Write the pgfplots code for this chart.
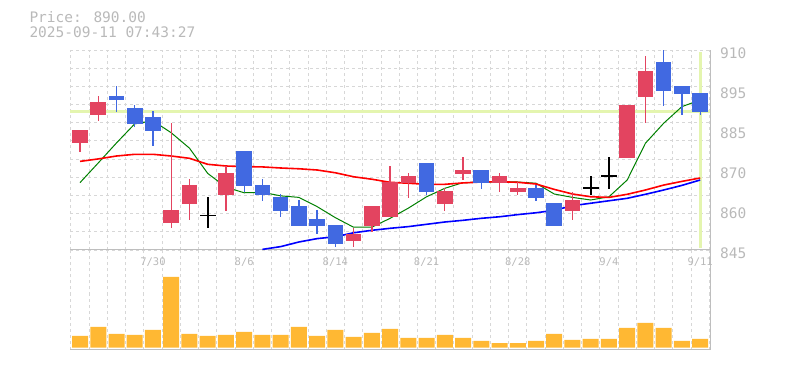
\documentclass[border=0pt]{standalone}
\usepackage{fontspec}
\usepackage{pgfplots}
\usepackage{pgfplotstable}
\pgfplotsset{compat=1.18}
\newfontfamily\monofont{DejaVu Sans Mono}
\definecolor{candlered}{RGB}{227,68,96}
\definecolor{candleblue}{RGB}{65,105,225}
\definecolor{volorange}{RGB}{255,184,51}
\definecolor{gridgray}{RGB}{215,215,215}
\definecolor{axisgray}{RGB}{190,190,190}
\definecolor{textgray}{RGB}{185,185,185}
\definecolor{hilite}{RGB}{228,245,175}
\definecolor{magreen}{RGB}{0,128,0}
\definecolor{mared}{RGB}{255,0,0}
\definecolor{mablue}{RGB}{0,0,255}

\pgfplotstableread{
x o h l c
0 879.9 884.0 877.0 884.0
1 889.0 895.0 887.0 893.0
5 853.9 886.4 852.0 858.0
6 860.1 868.1 854.9 866.1
8 863.0 872.2 857.8 870.0
15 847.9 852.2 846.1 850.2
16 852.9 859.3 851.0 859.3
17 855.8 872.3 855.8 867.0
18 866.7 870.0 862.0 869.0
20 860.1 865.2 857.7 864.2
21 869.7 875.2 867.75 871.0
23 866.9 870.0 864.0 869.0
24 864.0 867.1 863.0 865.15
27 857.8 864.0 854.75 861.25
30 875.0 892.1 875.0 892.1
31 894.8 908.05 886.2 903.1
}\upcandles

\pgfplotstableread{
x o h l c
2 895.0 898.3 890.0 893.7
3 891.2 892.0 885.1 886.0
4 888.2 890.2 878.9 883.8
9 877.2 877.2 864.0 865.9
10 866.1 868.1 861.0 863.0
11 862.2 863.1 855.8 857.8
12 859.3 861.25 852.9 852.9
13 855.1 858.0 850.1 852.9
14 853.1 853.1 846.1 847.0
19 873.3 873.3 862.9 864.0
22 871.0 871.0 864.9 866.9
25 865.15 866.1 861.0 862.0
26 860.3 860.3 852.9 852.9
32 906.0 910.0 891.9 896.7
33 898.2 898.2 889.0 895.8
34 896.0 896.0 889.0 890.0
}\downcandles

\pgfplotstableread{
x o h l c
7 856.2 862.2 852.0 856.2
28 865.15 869.05 862.9 865.15
29 869.05 875.2 864.9 869.05
}\dojis

\pgfplotstableread{
x ma
0 866.9
1 873.3
2 879.8
3 886.0
4 887.0
5 883.1
6 878.1
7 869.9
8 865.4
9 863.6
10 863.75
11 862.6
12 862.1
13 859.1
14 855.5
15 852.4
16 852.4
17 855.3
18 858.6
19 862.3
20 865.05
21 866.9
22 867.0
23 867.2
24 867.1
25 866.7
26 863.2
27 862.1
28 861.25
29 862.3
30 867.75
31 879.7
32 886.2
33 891.6
34 893.75
}\mashort

\pgfplotstableread{
x ma
0 873.8
1 874.6
2 875.55
3 876.1
4 876.1
5 875.55
6 874.8
7 872.85
8 872.3
9 872.1
10 872.0
11 871.65
12 871.4
13 871.0
14 870.1
15 868.8
16 868.0
17 867.0
18 866.7
19 866.35
20 866.35
21 866.8
22 867.1
23 867.2
24 867.0
25 866.45
26 864.7
27 863.2
28 862.3
29 862.1
30 863.1
31 864.5
32 866.1
33 867.3
34 868.4
}\mamid

\pgfplotstableread{
x ma
10 845.2
11 846.1
12 847.6
13 848.7
14 849.3
15 850.6
16 851.4
17 852.05
18 852.6
19 853.35
20 854.1
21 854.65
22 855.3
23 855.8
24 856.5
25 857.1
26 857.9
27 859.4
28 860.2
29 861.0
30 861.8
31 863.1
32 864.5
33 866.0
34 867.75
}\malong

\pgfplotstableread{
x v
0 11.7
1 20.7
2 13.7
3 12.7
4 17.7
5 70.7
6 13.7
7 11.7
8 12.7
9 15.7
10 12.7
11 12.7
12 20.7
13 11.7
14 17.7
15 10.7
16 14.7
17 18.7
18 9.7
19 9.7
20 12.7
21 9.7
22 6.7
23 4.7
24 4.7
25 6.7
26 13.7
27 7.7
28 8.7
29 8.7
30 19.7
31 24.7
32 19.7
33 6.7
34 8.7
}\volumes

\pgfplotsset{
  chartbase/.style={
    scale only axis, width=640pt,
    xmin=-0.55, xmax=34.54,
    axis x line*=bottom, axis y line*=right,
    x axis line style={-, draw=axisgray, line width=1pt},
    y axis line style={-, draw=axisgray, line width=1pt},
    minor xtick={-0.5,0.5,...,34.5},
    xminorgrids=true,
    minor grid style={draw=gridgray, line width=0.9pt, dash pattern=on 3pt off 3pt},
    major tick length=0pt, minor tick length=0pt,
    xtick={4,9,14,19,24,29,34},
  }
}

\begin{document}
\begin{tikzpicture}[x=1pt,y=1pt]
\path[use as bounding box] (0,0) rectangle (785,370);
\node[anchor=base west, inner sep=0pt, text=textgray, font=\monofont\fontsize{14.5}{16}\selectfont] at (29.3,347) {Price: 890.00};
\node[anchor=base west, inner sep=0pt, text=textgray, font=\monofont\fontsize{14.5}{16}\selectfont] at (29.3,332) {2025-09-11 07:43:27};

\begin{axis}[chartbase,
  at={(70pt,20.5pt)}, anchor=south west, height=99.5pt,
  ymin=-1.8, ymax=97.7,
  xticklabels={}, ytick=\empty,
]
\addplot[ybar, bar width=16pt, bar shift=0pt, fill=volorange, draw=none] table[x=x, y=v] {\volumes};
\end{axis}

\begin{axis}[chartbase,
  at={(70pt,120pt)}, anchor=south west, height=200pt,
  ymin=845, ymax=910,
  xticklabels={7/30,8/6,8/14,8/21,8/28,9/4,9/11},
  xticklabel style={font=\monofont\fontsize{10.5}{12}\selectfont, text=textgray, anchor=center, inner sep=0pt, yshift=-12pt},
  ytick={910,897,884,871,858,845},
  yticklabels={910,895,885,870,860,845},
  yticklabel style={font=\monofont\fontsize{14.5}{16}\selectfont, text=textgray, anchor=west, inner sep=0pt, xshift=10pt, yshift=-3pt},
  minor ytick={845,850.909,856.818,862.727,868.636,874.545,880.455,886.364,892.273,898.182,904.091,910},
  yminorgrids=true,
]
\addplot[hilite, line width=3.2pt, forget plot] coordinates {(-0.55,890) (34.54,890)};
\addplot[hilite, line width=3.2pt, forget plot] coordinates {(34,845.6) (34,909.4)};
\addplot[magreen, line width=1pt] table[x=x, y=ma] {\mashort};
\addplot[mared, line width=1.6pt] table[x=x, y=ma] {\mamid};
\addplot[mablue, line width=1.6pt] table[x=x, y=ma] {\malong};
% wicks
\addplot[draw=none, mark=none, forget plot,
  error bars/.cd, y dir=both, y explicit, error mark=none,
  error bar style={draw=candlered, line width=1.3pt}]
  table[x=x, y expr=(\thisrow{h}+\thisrow{l})/2, y error expr=(\thisrow{h}-\thisrow{l})/2] {\upcandles};
\addplot[draw=none, mark=none, forget plot,
  error bars/.cd, y dir=both, y explicit, error mark=none,
  error bar style={draw=candleblue, line width=1.3pt}]
  table[x=x, y expr=(\thisrow{h}+\thisrow{l})/2, y error expr=(\thisrow{h}-\thisrow{l})/2] {\downcandles};
\addplot[draw=none, mark=none, forget plot,
  error bars/.cd, y dir=both, y explicit, error mark=none,
  error bar style={draw=black, line width=1.7pt}]
  table[x=x, y expr=(\thisrow{h}+\thisrow{l})/2, y error expr=(\thisrow{h}-\thisrow{l})/2] {\dojis};
% bodies
\addplot[draw=none, mark=none, forget plot,
  error bars/.cd, y dir=both, y explicit, error mark=none,
  error bar style={draw=candlered, line width=15.6pt}]
  table[x=x, y expr=(\thisrow{o}+\thisrow{c})/2, y error expr=abs(\thisrow{c}-\thisrow{o})/2] {\upcandles};
\addplot[draw=none, mark=none, forget plot,
  error bars/.cd, y dir=both, y explicit, error mark=none,
  error bar style={draw=candleblue, line width=15.6pt}]
  table[x=x, y expr=(\thisrow{o}+\thisrow{c})/2, y error expr=abs(\thisrow{c}-\thisrow{o})/2] {\downcandles};
\addplot[draw=none, mark=none, forget plot,
  error bars/.cd, x dir=both, x explicit, error mark=none,
  error bar style={draw=black, line width=1.7pt}]
  table[x=x, y=c, x error expr=0.43] {\dojis};
\end{axis}
\end{tikzpicture}
\end{document}
